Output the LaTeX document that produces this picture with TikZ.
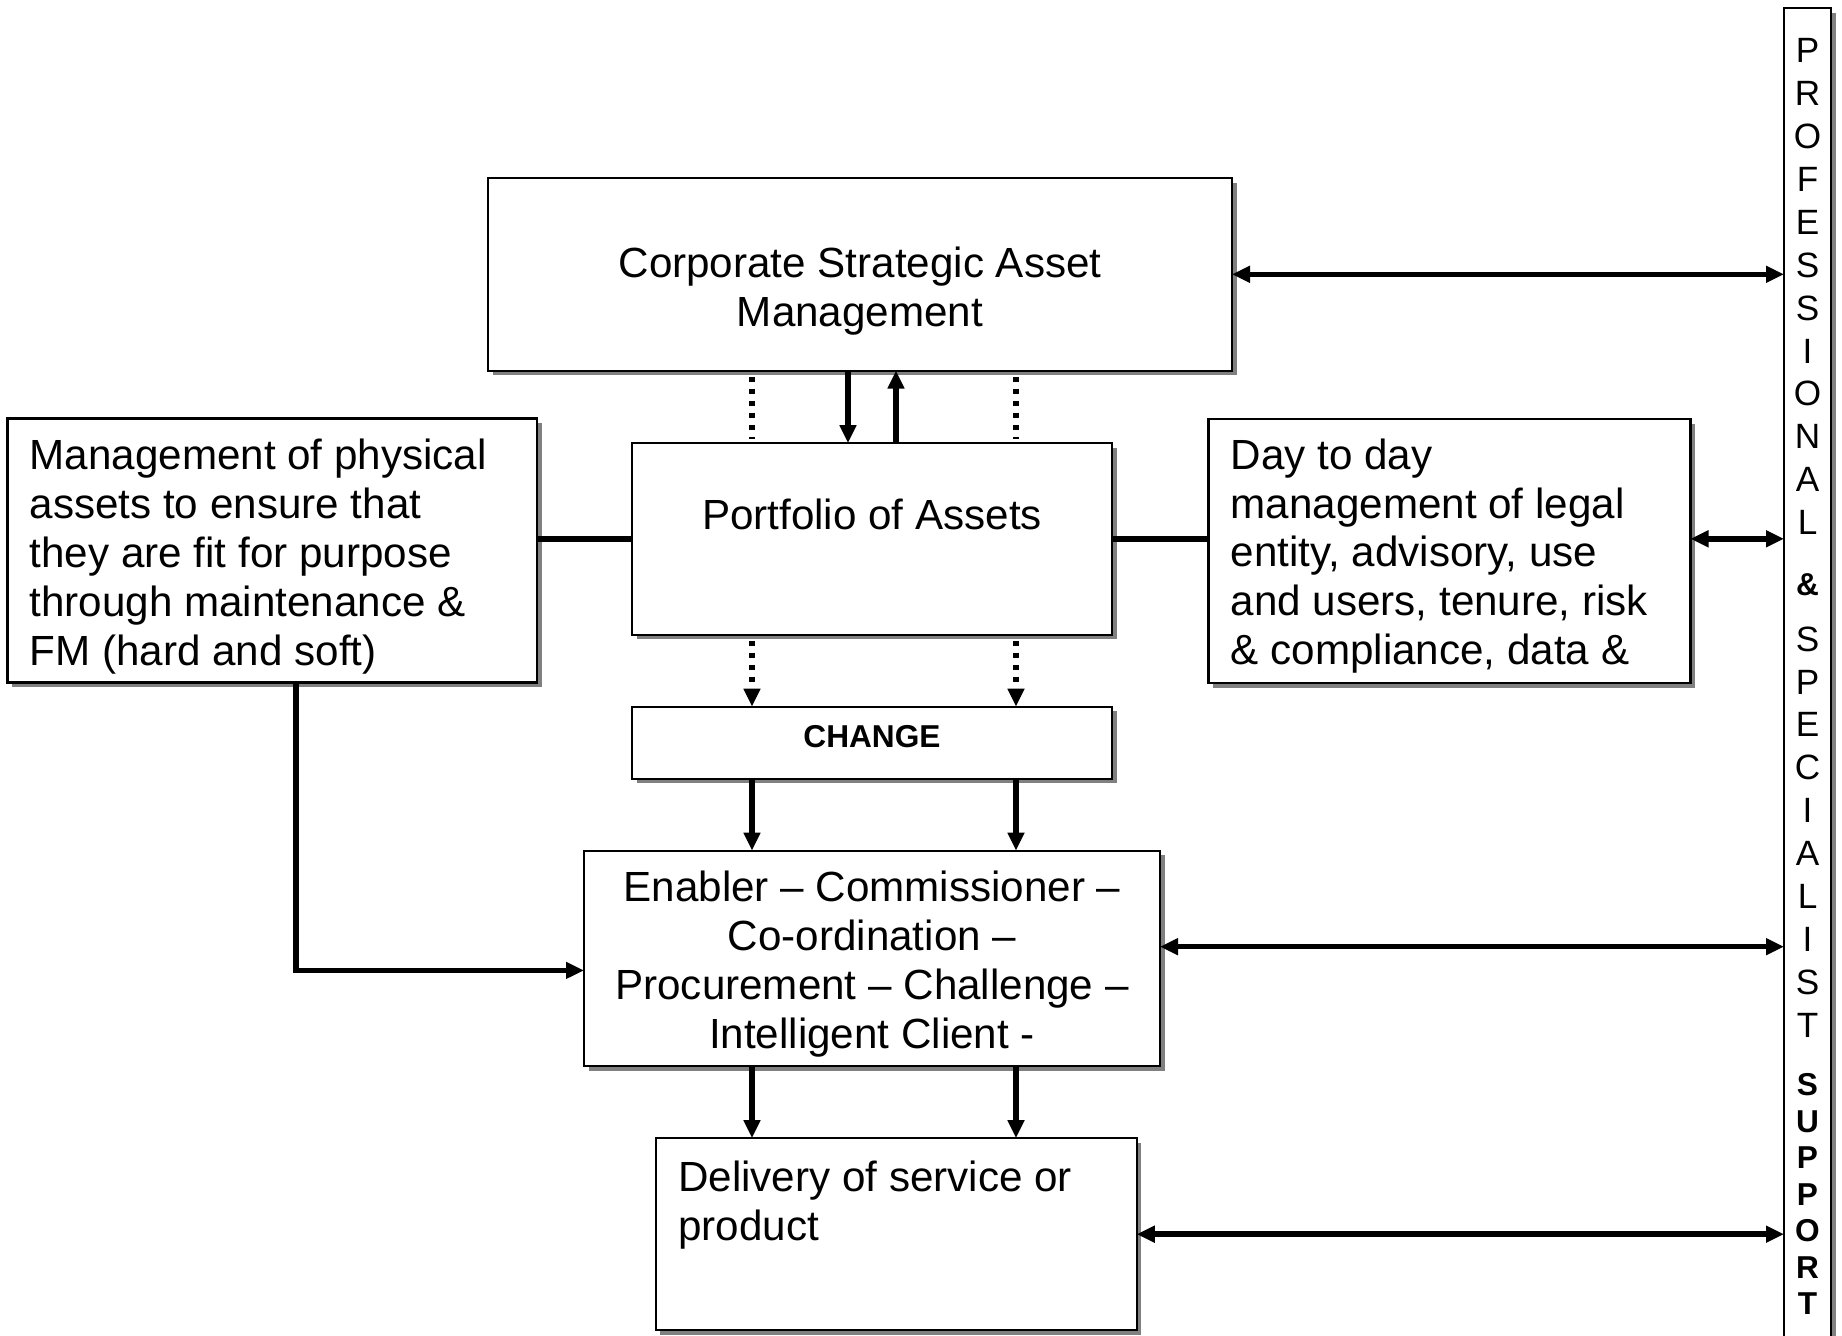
\documentclass[tikz,border=0pt]{standalone}
\usepackage{fontspec}
\setmainfont{Liberation Sans}
\usetikzlibrary{positioning, arrows.meta, shadows}

\begin{document}
\begin{tikzpicture}[
    box/.style={draw, rectangle, line width=0.6pt, fill=white, outer sep=0pt, inner sep=0pt,
        drop shadow={shadow xshift=0.45mm, shadow yshift=-0.45mm, fill=black!50, opacity=1}},
    boxtext/.style={inner sep=0pt, font=\fontsize{12}{13.9}\selectfont},
    bartext/.style={inner sep=0pt, align=center, font=\fontsize{10}{12.2}\selectfont},
    barbold/.style={inner sep=0pt, align=center, font=\fontsize{9}{10.4}\selectfont\bfseries},
    link/.style={line width=1.6pt},
    arrow/.style={line width=1.6pt, -{Triangle[length=1.8mm,width=1.6mm]}},
    dblarrow/.style={line width=1.6pt, {Triangle[length=1.8mm,width=1.6mm]}-{Triangle[length=1.8mm,width=1.6mm]}},
    dots/.style={line width=1.6pt, dash pattern=on 0.5mm off 0.7mm}
]
\useasboundingbox (0,0) rectangle (18.42,-13.35);

% central column
\node[box, minimum width=7.44cm, minimum height=1.925cm] (csam) at (8.60,-2.743) {};
\node[box, minimum width=4.80cm, minimum height=1.915cm, below=0.725cm of csam, xshift=0.12cm] (portfolio) {};
\node[box, minimum width=4.80cm, minimum height=0.72cm, below=0.72cm of portfolio] (change) {};
\node[box, minimum width=5.76cm, minimum height=2.156cm, below=0.72cm of change] (enabler) {};
\node[box, minimum width=4.81cm, minimum height=1.92cm, below=0.72cm of enabler, xshift=0.243cm] (delivery) {};

% side boxes
\node[box, minimum width=5.295cm, minimum height=2.64cm] (physical) at (2.7225,-5.505) {};
\node[box, minimum width=4.82cm, minimum height=2.64cm] (daytoday) at (14.495,-5.51) {};
\node[box, minimum width=0.47cm, minimum height=13.37cm] (support) at (18.075,-6.765) {};

% texts
\node[boxtext, align=center, below=0.68cm of csam.north] (csamtext) {Corporate Strategic Asset\\Management};
\node[boxtext, below=0.555cm of portfolio.north] (portfoliotext) {Portfolio of Assets};
\node[boxtext, font=\fontsize{9}{10.4}\selectfont\bfseries, below=0.185cm of change.north] (changetext) {CHANGE};
\node[boxtext, align=center, below=0.20cm of enabler.north] (enablertext) {Enabler – Commissioner –\\Co-ordination –\\Procurement – Challenge –\\Intelligent Client -};
\node[boxtext, align=left, below right=0.22cm and 0.217cm of delivery.north west] (deliverytext) {Delivery of service or\\product};
\node[boxtext, align=left, below right=0.20cm and 0.215cm of physical.north west] (physicaltext) {Management of physical\\assets to ensure that\\they are fit for purpose\\through maintenance \&\\FM (hard and soft)};
\node[boxtext, align=left, below right=0.19cm and 0.215cm of daytoday.north west] (daytodaytext) {Day to day\\management of legal\\entity, advisory, use\\and users, tenure, risk\\\& compliance, data \&};

% lettering down the support bar
\node[bartext, below=0.30cm of support.north] (profcol) {P\\R\\O\\F\\E\\S\\S\\I\\O\\N\\A\\L};
\node[barbold, below=0.38cm of profcol] (amp) {\&};
\node[bartext, below=0.29cm of amp] (speccol) {S\\P\\E\\C\\I\\A\\L\\I\\S\\T};
\node[barbold, below=0.35cm of speccol] (suppcol) {S\\U\\P\\P\\O\\R\\T};

% lanes for the vertical links
\coordinate (lane1) at (7.52,0);
\coordinate (lane2) at (10.16,0);

% connectors
\draw[dots, shorten <=0.06cm, shorten >=0.04cm] (lane1 |- csam.south) -- (lane1 |- portfolio.north);
\draw[dots, shorten <=0.06cm, shorten >=0.04cm] (lane2 |- csam.south) -- (lane2 |- portfolio.north);
\draw[arrow] ([xshift=-0.24cm]portfolio.north |- csam.south) -- ([xshift=-0.24cm]portfolio.north);
\draw[arrow] ([xshift=0.24cm]portfolio.north) -- ([xshift=0.24cm]portfolio.north |- csam.south);
\draw[dots, -{Triangle[length=1.8mm,width=1.6mm]}, shorten <=0.06cm] (lane1 |- portfolio.south) -- (lane1 |- change.north);
\draw[dots, -{Triangle[length=1.8mm,width=1.6mm]}, shorten <=0.06cm] (lane2 |- portfolio.south) -- (lane2 |- change.north);
\draw[arrow] (lane1 |- change.south) -- (lane1 |- enabler.north);
\draw[arrow] (lane2 |- change.south) -- (lane2 |- enabler.north);
\draw[arrow] (lane1 |- enabler.south) -- (lane1 |- delivery.north);
\draw[arrow] (lane2 |- enabler.south) -- (lane2 |- delivery.north);

\draw[link] (physical.east |- portfolio.west) -- (portfolio.west);
\draw[link] (portfolio.east) -- (portfolio.east -| daytoday.west);
\draw[arrow] ([xshift=0.236cm]physical.south) |- ([yshift=-0.12cm]enabler.west);

\draw[dblarrow] (csam.east) -- (csam.east -| support.west);
\draw[dblarrow] (daytoday.east |- portfolio.east) -- (support.west |- portfolio.east);
\draw[dblarrow] ([yshift=0.117cm]enabler.east) -- ([yshift=0.117cm]enabler.east -| support.west);
\draw[dblarrow] (delivery.east) -- (delivery.east -| support.west);
\end{tikzpicture}
\end{document}
